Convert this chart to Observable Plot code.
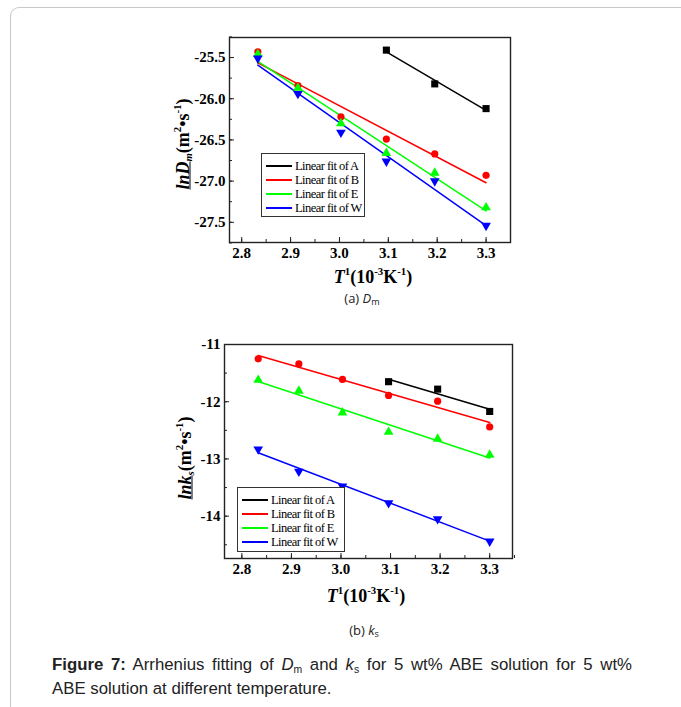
<!DOCTYPE html>
<html>
<head>
<meta charset="utf-8">
<script src="https://cdn.jsdelivr.net/npm/d3@7"></script>
<script src="https://cdn.jsdelivr.net/npm/@observablehq/plot@0.6"></script>
<style>
  body { margin:0; background:#fff; }
  #page { position:relative; width:681px; height:707px; overflow:hidden; background:#fff; }
  .abs { position:absolute; white-space:nowrap; }
  .axt { font-family:"Liberation Serif", "Times New Roman", serif; font-weight:bold; font-size:18px; color:#000; transform:translate(-50%,-50%); }
  .axt sup { font-size:0.6em; vertical-align:0.7em; line-height:0; }
  .axt sub { font-size:0.6em; vertical-align:-0.3em; line-height:0; }
  .rot { transform:translate(-50%,-50%) rotate(-90deg); }
  .legend { box-sizing:border-box; border:1.5px solid #333; background:#fff; font-family:"Liberation Serif", serif; font-size:12.5px; letter-spacing:-0.55px; color:#000; padding:5px 0 3px 4px; }
  .legend .row { display:flex; align-items:center; height:14px; }
  .legend .sw { display:inline-block; flex:none; width:26px; height:2px; margin-right:3px; }
  .cap { font-family:"Open Sans", sans-serif; font-size:13px; color:#222; transform:translateX(-50%); }
  .cap sub { font-size:0.7em; vertical-align:-0.25em; line-height:0; }
  .fig { font-family:"Liberation Sans", Arial, sans-serif; font-size:16.8px; color:#222; line-height:23px; }
  .fig sub { font-size:0.62em; vertical-align:-0.3em; line-height:0; }
  .just { white-space:normal; text-align:justify; text-align-last:justify; }
</style>
</head>
<body>
<div id="page">
  <div class="abs" style="left:10px;top:7px;width:700px;height:720px;border-left:1.3px solid #c8c8c8;border-top:1.3px solid #c8c8c8;border-top-left-radius:9px;"></div>
</div>
<script>
// ---- data ----
const invT = [2.833, 2.915, 3.003, 3.096, 3.195, 3.300];
const invTA = [3.096, 3.195, 3.300];
const seriesKeys = ["A", "B", "E", "W"];
const seriesColors = ["#000000", "#ff0000", "#00ff00", "#0000ff"];
const seriesSymbols = ["square", "circle", "triangle", "triangle"];
const seriesRotate = [0, 0, 0, 180];
const seriesR = [4, 3.6, 3.6, 3.6];

// ln Dm
const dmA = [-25.41, -25.82, -26.12];
const dmB = [-25.43, -25.84, -26.22, -26.49, -26.67, -26.93];
const dmE = [-25.46, -25.87, -26.30, -26.66, -26.90, -27.32];
const dmW = [-25.51, -25.94, -26.41, -26.76, -27.00, -27.54];

// ln ks
const ksA = [-11.65, -11.78, -12.17];
const ksB = [-11.25, -11.34, -11.61, -11.89, -11.99, -12.44];
const ksE = [-11.62, -11.81, -12.19, -12.53, -12.65, -12.93];
const ksW = [-12.83, -13.22, -13.48, -13.77, -14.05, -14.44];

const xTicks = [2.8, 2.9, 3.0, 3.1, 3.2, 3.3];
const xMinor = [2.8, 2.85, 2.9, 2.95, 3.0, 3.05, 3.1, 3.15, 3.2, 3.25, 3.3, 3.35];
const dmTicks = [-25.5, -26.0, -26.5, -27.0, -27.5];
const dmMinor = [-25.25, -25.5, -25.75, -26.0, -26.25, -26.5, -26.75, -27.0, -27.25, -27.5, -27.75];
const ksTicks = [-11, -12, -13, -14];
const ksMinor = [-11, -11.5, -12, -12.5, -13, -13.5, -14, -14.5];

const legendLabels = seriesKeys.map(k => "Linear fit of " + k);

function rowsOf(xs, ys) { return xs.map((x, i) => ({x, y: ys[i]})); }

function makePanel({series, xDomain, yDomain, yTicks, yMinor, yFmt, width, height, mt, mb, ml, mr}) {
  const marks = [];
  series.forEach((rows, i) => {
    marks.push(Plot.linearRegressionY(rows, {x: "x", y: "y", stroke: seriesColors[i], strokeWidth: 1.5, ci: 0}));
  });
  series.forEach((rows, i) => {
    marks.push(Plot.dot(rows, {x: "x", y: "y", symbol: seriesSymbols[i], fill: seriesColors[i], stroke: "none", r: seriesR[i], rotate: seriesRotate[i]}));
  });
  marks.push(
    Plot.axisX({ticks: xMinor, tickSize: -3, tickFormat: () => "", stroke: "#222"}),
    Plot.axisX({ticks: xTicks, tickSize: -5, tickFormat: () => "", stroke: "#222"}),
    Plot.axisX({ticks: xTicks, tickSize: 0, tickPadding: 5, tickFormat: d => d.toFixed(1), label: null}),
    Plot.axisY({ticks: yMinor, tickSize: -3, tickFormat: () => "", stroke: "#222"}),
    Plot.axisY({ticks: yTicks, tickSize: -5, tickFormat: () => "", stroke: "#222"}),
    Plot.axisY({ticks: yTicks, tickSize: 0, tickPadding: 4, tickFormat: yFmt, label: null}),
    Plot.frame({stroke: "#222", strokeWidth: 1.4})
  );
  return Plot.plot({
    width, height,
    marginTop: mt, marginBottom: mb, marginLeft: ml, marginRight: mr,
    x: {domain: xDomain, label: null},
    y: {domain: yDomain, label: null},
    style: {fontFamily: "Liberation Serif, serif", fontWeight: "bold", fontSize: "15px", color: "#000", background: "transparent", overflow: "visible"},
    marks
  });
}

const page = document.getElementById("page");

// top panel
const topSeries = [rowsOf(invTA, dmA), rowsOf(invT, dmB), rowsOf(invT, dmE), rowsOf(invT, dmW)];
const p1 = makePanel({series: topSeries, xDomain: [2.775, 3.35], yDomain: [-27.745, -25.257], yTicks: dmTicks, yMinor: dmMinor,
  yFmt: d => d.toFixed(1), width: 681, height: 290, mt: 37, mb: 48, ml: 229, mr: 171});
p1.style.position = "absolute"; p1.style.left = "0px"; p1.style.top = "0px";
page.appendChild(p1);

// bottom panel
const botSeries = [rowsOf(invTA, ksA), rowsOf(invT, ksB), rowsOf(invT, ksE), rowsOf(invT, ksW)];
const p2 = makePanel({series: botSeries, xDomain: [2.765, 3.346], yDomain: [-14.74, -11], yTicks: ksTicks, yMinor: ksMinor,
  yFmt: d => String(d), width: 681, height: 270, mt: 24, mb: 32, ml: 224, mr: 169});
p2.style.position = "absolute"; p2.style.left = "0px"; p2.style.top = "320px";
page.appendChild(p2);

function addHTML(html) { page.insertAdjacentHTML("beforeend", html); }

// axis titles
const xTitle = '<i>T</i><sup>1</sup>(10<sup>-3</sup>K<sup>-1</sup>)';
addHTML(`<div class="abs axt" style="left:373px;top:277px">${xTitle}</div>`);
addHTML(`<div class="abs axt" style="left:366px;top:596px">${xTitle}</div>`);
addHTML(`<div class="abs axt rot" style="left:183px;top:144px"><i><u>lnD<sub>m</sub></u></i>(m<sup>2</sup>•s<sup>-1</sup>)</div>`);
addHTML(`<div class="abs axt rot" style="left:185px;top:458px"><i><u>lnk<sub>s</sub></u></i>(m<sup>2</sup>•s<sup>-1</sup>)</div>`);

// legends
function legendHTML(left, top, w, h) {
  const rows = legendLabels.map((t, i) => `<div class="row"><span class="sw" style="background-color:${seriesColors[i]}"></span><span>${t}</span></div>`).join("");
  return `<div class="abs legend" style="left:${left}px;top:${top}px;width:${w}px;height:${h}px">${rows}</div>`;
}
addHTML(legendHTML(261, 153, 104, 64));
addHTML(legendHTML(237, 487, 108, 65));

// sub captions
addHTML(`<div class="abs cap" style="left:362px;top:289px">(a) <i>D</i><sub>m</sub></div>`);
addHTML(`<div class="abs cap" style="left:364px;top:621px">(b) <i>k</i><sub>s</sub></div>`);

// figure caption
addHTML(`<div class="abs fig just" style="left:52px;top:653px;width:580px"><b>Figure 7:</b> Arrhenius fitting of <i>D</i><sub>m</sub> and <i>k</i><sub>s</sub> for 5 wt% ABE solution for 5 wt%</div>`);
addHTML(`<div class="abs fig" style="left:52px;top:677px">ABE solution at different temperature.</div>`);
</script>
</body>
</html>
